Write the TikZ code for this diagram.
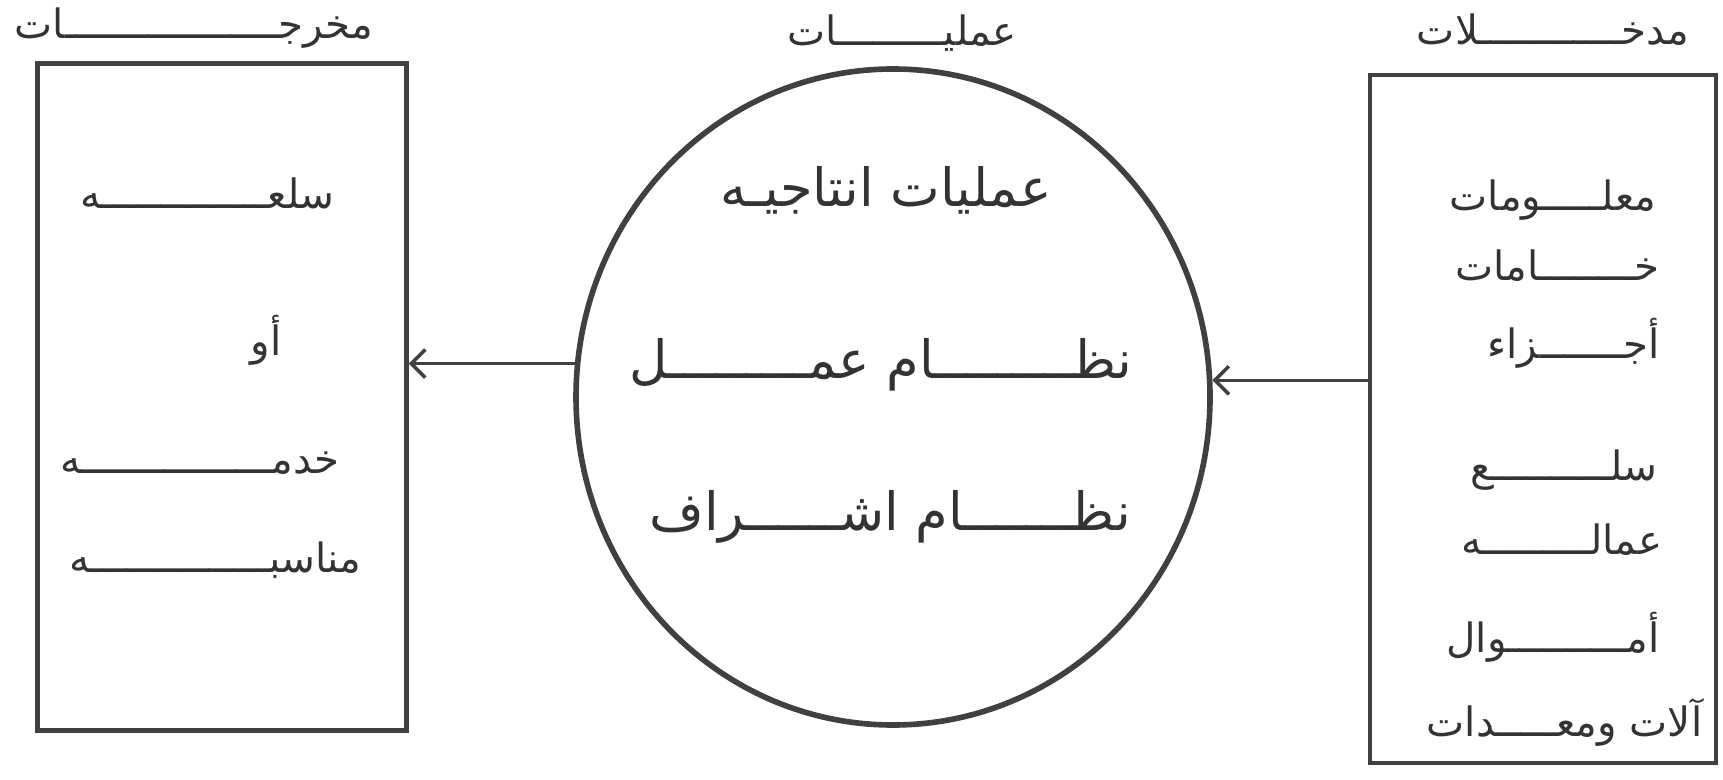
\documentclass[tikz,border=0pt]{standalone}
\usepackage{fontspec}
\newfontfamily\arabicfont[Script=Arabic]{DejaVu Sans}
\TeXXeTstate=1
\usetikzlibrary{arrows.meta,shapes.geometric}
\newcommand{\artxt}[1]{\beginR #1\endR}
\ExplSyntaxOn
\cs_new:Npn \tatw #1 {\prg_replicate:nn {#1} {ـ}}
\ExplSyntaxOff

\begin{document}
\begin{tikzpicture}[x=0.1mm,y=-0.1mm,
  lbl/.style={font=\arabicfont\fontsize{11.5}{13}\selectfont,inner sep=0pt,text=black!80},
  biglbl/.style={font=\arabicfont\fontsize{15}{17}\selectfont,inner sep=0pt,text=black!80},
  panel/.style={draw=black!75,line width=1.3pt,inner sep=0pt},
  flow/.style={draw=black!75,line width=1pt,-{Straight Barb[length=4pt,width=8pt]}}]
\useasboundingbox (0,0) rectangle (1723,779);
\node[panel,minimum width=36.9mm,minimum height=66.7mm] (outbox) at (222,397) {};
\node[panel,minimum width=34.6mm,minimum height=68.8mm] (inbox) at (1543,419) {};
\node[panel,ellipse,line width=1.6pt,minimum width=63.4mm,minimum height=65.6mm] (proc) at (893,397) {};
\node[lbl] (houts) at (194,28) {\artxt{مخرج\tatw{18}ات}};
\node[lbl] (hproc) at (902,33) {\artxt{عملي\tatw{9}ات}};
\node[lbl] (hins) at (1553,30) {\artxt{مدخ\tatw{12}لات}};
\node[lbl,anchor=east] (out1) at (335,193) {\artxt{سلع\tatw{14}ه}};
\node[lbl,anchor=east] (out2) at (282,340) {\artxt{أو}};
\node[lbl,anchor=east] (out3) at (340,463) {\artxt{خدم\tatw{16}ه}};
\node[lbl,anchor=east] (out4) at (362,560) {\artxt{مناسب\tatw{15}ه}};
\node[biglbl] (proc1) at (886,190) {\artxt{عمليات انتاجيـه}};
\node[biglbl] (proc2) at (881,365) {\artxt{نظ\tatw{9}ام عم\tatw{9}ل}};
\node[biglbl] (proc3) at (890,517) {\artxt{نظ\tatw{7}ام اش\tatw{6}راف}};
\node[lbl,anchor=east] (in1) at (1657,200) {\artxt{معل\tatw{5}ومات}};
\node[lbl,anchor=east] (in2) at (1660,266) {\artxt{خ\tatw{8}امات}};
\node[lbl,anchor=east] (in3) at (1660,343) {\artxt{أج\tatw{7}زاء}};
\node[lbl,anchor=east] (in4) at (1658,470) {\artxt{سل\tatw{10}ع}};
\node[lbl,anchor=east] (in5) at (1663,540) {\artxt{عمال\tatw{9}ه}};
\node[lbl,anchor=east] (in6) at (1660,637) {\artxt{أم\tatw{10}وال}};
\node[lbl,anchor=east] (in7) at (1703,722) {\artxt{آلات ومع\tatw{5}دات}};
\draw[flow] (proc.174.6) -- (proc.174.6 -| outbox.east);
\draw[flow] (inbox.west |- proc.3) -- (proc.3);
\end{tikzpicture}
\end{document}
